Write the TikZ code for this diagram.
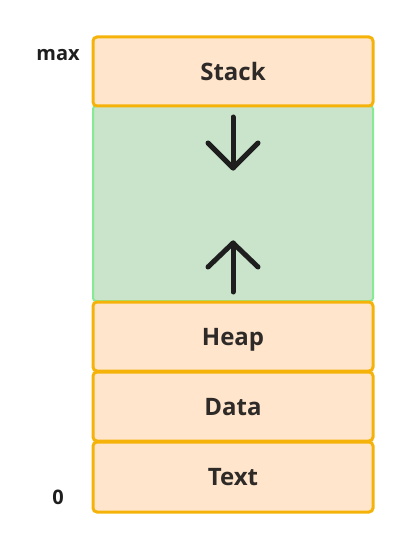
\documentclass[tikz,border=0pt]{standalone}
\usepackage{fontspec}
\setmainfont{Open Sans}
\definecolor{segfill}{HTML}{FFE5CC}
\definecolor{segdraw}{HTML}{F5B30A}
\definecolor{gapfill}{HTML}{C9E4CA}
\definecolor{gapdraw}{HTML}{86EA92}
\definecolor{ink}{HTML}{1E1E1E}
\definecolor{txt}{HTML}{2E2A28}
\begin{document}
\begin{tikzpicture}[x=1pt,y=-1pt,
  seg/.style={draw=segdraw,fill=segfill,line width=3pt,rounded corners=4pt},
  gap/.style={draw=gapdraw,fill=gapfill,line width=2pt,rounded corners=3pt},
  lab/.style={font=\fontsize{24}{28}\selectfont\bfseries,text=txt,anchor=base,inner sep=0pt},
  side/.style={font=\fontsize{20}{24}\selectfont\bfseries,text=ink,anchor=base,inner sep=0pt},
  arr/.style={draw=ink,line width=5pt,line cap=round,line join=round}]
\useasboundingbox (0,0) rectangle (408,545);
\draw[gap] (93,106) rectangle (373,301);
\draw[seg] (93,37) rectangle (373,106);
\draw[seg] (93,302) rectangle (373,371);
\draw[seg] (93,372) rectangle (373,441);
\draw[seg] (93,442) rectangle (373,512);
\node[lab] (stack) at (233,80.5) {Stack};
\node[lab] (heap) at (233,345.5) {Heap};
\node[lab] (data) at (233,415.5) {Data};
\node[lab] (text) at (233,485.5) {Text};
\node[side] (max) at (58,60.5) {max};
\node[side] (zero) at (58,504) {0};
\coordinate (d1) at (233,117);
\coordinate (d2) at (233,168);
\coordinate (u1) at (233,292);
\coordinate (u2) at (233,243);
\draw[arr] (d1) -- (d2);
\draw[arr] (208,143) -- (d2) -- (258,143);
\draw[arr] (u1) -- (u2);
\draw[arr] (208,267) -- (u2) -- (258,267);
\end{tikzpicture}
\end{document}
